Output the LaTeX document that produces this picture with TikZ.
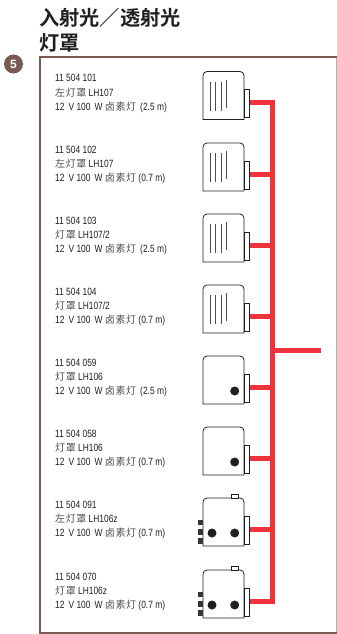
\documentclass[tikz,border=0pt]{standalone}
\usepackage{fontspec}
\usetikzlibrary{calc}
\setmainfont{Liberation Sans}
\newfontfamily\cjk[LetterSpace=6]{Noto Sans CJK SC}
\newfontfamily\cjkbf{Noto Sans CJK SC Bold}
\newfontfamily\narrow[FakeStretch=.8]{Liberation Sans}
\definecolor{framebrown}{HTML}{7A5A50}
\definecolor{busred}{HTML}{F0323C}
\definecolor{inkgray}{HTML}{231F20}
\newcommand{\hanzi}[1]{{\cjk\fontsize{10}{14}\selectfont\color{inkgray!78}#1}}
\tikzset{bus/.style={draw=busred,line width=5pt},
         lamp/.style={draw=inkgray,line width=.8pt,fill=white},
         plug/.style={draw=inkgray,line width=.6pt,fill=white,minimum width=5.5pt,minimum height=28pt,inner sep=0pt},
         stripe/.style={draw=inkgray!80,line width=.9pt},
         bulb/.style={circle,fill=inkgray,minimum size=9pt,inner sep=0pt},
         pinbox/.style={fill=inkgray!90,minimum width=4.4pt,minimum height=5.6pt,inner sep=0pt},
         captab/.style={draw=inkgray,line width=.6pt,fill=white,minimum width=7pt,minimum height=3.4pt,inner sep=0pt},
         rowtext/.style={anchor=north west,align=left,inner sep=0pt,text=inkgray,font=\narrow\fontsize{10.5}{14.2}\selectfont},
         headline/.style={anchor=north west,align=left,inner sep=0pt,text=inkgray,font=\cjkbf\fontsize{20.2}{25}\selectfont}}

\begin{document}
\begin{tikzpicture}[x=1pt,y=-1pt]
  \useasboundingbox (0,0) rectangle (337,634);
  \fill[white] (0,0) rectangle (337,634);
  \draw[draw=framebrown!50,line width=1pt] (336,57)--(336,633);
  \draw[draw=framebrown,line width=2pt] (337,57)--(40,57)--(40,632.5)--(337,632.5);
  \node[headline] (title) at (39,8) {入射光／透射光\\灯罩};
  \node[circle,fill=framebrown,minimum size=19pt,inner sep=0pt,text=white,font=\bfseries\fontsize{12}{12}\selectfont] (badge) at (13.5,64) {5};
  % lamp rows, top edge of each housing
  \foreach \i/\top/\partno/\hz/\lname/\lead/\kind in {
      1/71.5/101/左灯罩/LH107/\,(2.5 m)/a,
      2/143/102/左灯罩/LH107/(0.7 m)/a,
      3/214/103/灯罩/LH107\slash 2/\,(2.5 m)/a,
      4/285/104/灯罩/LH107\slash 2/(0.7 m)/a,
      5/356/059/灯罩/LH106/\,(2.5 m)/b,
      6/427/058/灯罩/LH106/(0.7 m)/b,
      7/498/091/左灯罩/LH106z/(0.7 m)/c,
      8/570/070/灯罩/LH106z/(0.7 m)/c}{
    \begin{scope}[shift={(0,\top)}]
      \node[rowtext] (text\i) at (55,2.8) {11 504 \partno\\\hanzi{\hz} \lname\\12\,\ V 100\,\ W \hanzi{卤素灯} \lead};
      \draw[lamp] (203,48) [rounded corners=4pt] -- (203,0) -- (244,0) [sharp corners] -- (244,48) -- cycle;
      \node[plug] (plug\i) at (246.7,32) {};
      \coordinate (tap\i) at (272,31);
      \draw[bus] (tap\i -| plug\i.east) -- (tap\i);
      \if a\kind
        \foreach \sx/\sa/\sb in {210/10/39,215.7/10/39,221.3/10/39,226.7/8/36}
          \draw[stripe] (\sx,\sa) -- (\sx,\sb);
      \else
        \node[bulb] (bulbr\i) at (234.7,35) {};
      \fi
      \if c\kind
        \node[bulb] (bulbl\i) at (212,35) {};
        \node[pinbox] (pina\i) at (200.5,24.5) {};
        \node[pinbox] (pinb\i) at (200.5,34) {};
        \node[pinbox] (pinc\i) at (200.5,43) {};
        \node[captab] (cap\i) at (234.5,-1.7) {};
      \fi
    \end{scope}
  }
  \coordinate (feed) at (321,350.5);
  \coordinate (busin) at (272,350.5);
  \draw[bus] ($(tap1)+(0,-2.5)$) -- ($(tap8)+(0,2.5)$);
  \draw[bus] (busin) -- (feed);
\end{tikzpicture}
\end{document}
